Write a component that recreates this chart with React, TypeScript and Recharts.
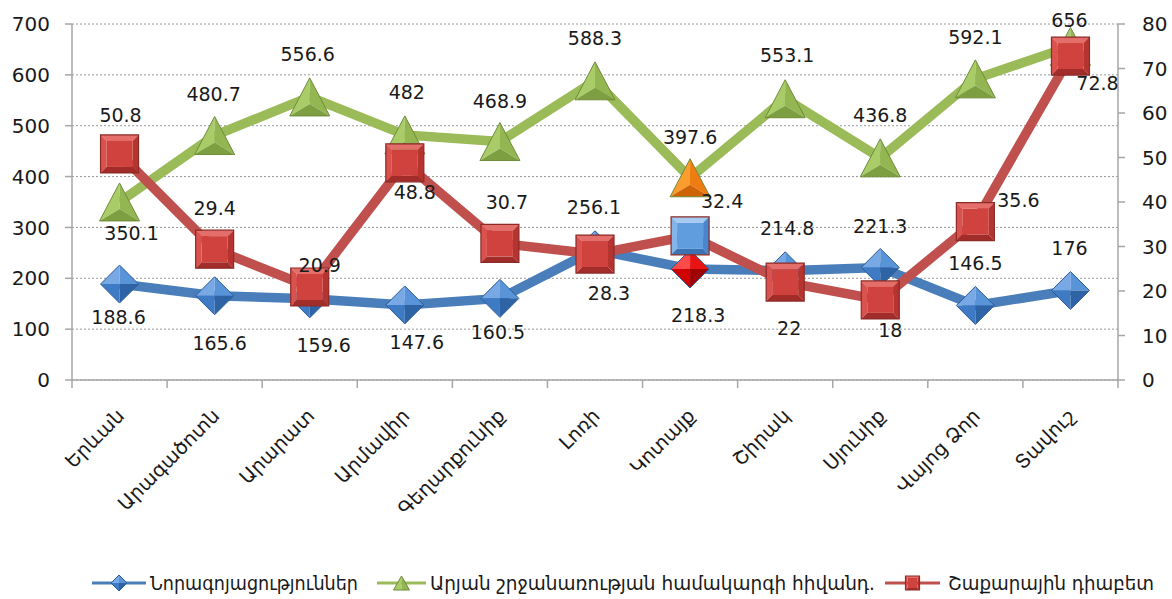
import React from 'react';
import { LineChart, Line, XAxis, YAxis, CartesianGrid, LabelList } from 'recharts';

// ---------- data ----------
const categories = ['Երևան', 'Արագածոտն', 'Արարատ', 'Արմավիր', 'Գեղարքունիք', 'Լոռի', 'Կոտայք', 'Շիրակ', 'Սյունիք', 'Վայոց Ձոր', 'Տավուշ'];
const neoplasms = [188.6, 165.6, 159.6, 147.6, 160.5, 256.1, 218.3, 214.8, 221.3, 146.5, 176];
const circulatory = [350.1, 480.7, 556.6, 482, 468.9, 588.3, 397.6, 553.1, 436.8, 592.1, 656];
const diabetes = [50.8, 29.4, 20.9, 48.8, 30.7, 28.3, 32.4, 22, 18, 35.6, 72.8];
const leftTicks = [0, 100, 200, 300, 400, 500, 600, 700];
const rightTicks = [0, 10, 20, 30, 40, 50, 60, 70, 80];
const seriesNames = ['Նորագոյացություններ', 'Արյան շրջանառության համակարգի հիվանդ.', 'Շաքարային դիաբետ'];
const highlightCategory = 'Կոտայք';

// ---------- label placement (style, offsets from the point) ----------
const blueLabelOffsets = [[-1, 33], [5, 47], [14, 46], [12, 37], [-2, 34], [-1, -43], [8, 46], [2, -43], [0, -41], [0, -42], [-1, -42]];
const greenLabelOffsets = [[12, 31], [-1, -42], [-2, -43], [2, -43], [0, -41], [0, -43], [0, -41], [2, -44], [0, -43], [0, -42], [-1, -26]];
const redLabelOffsets = [[1, -39], [0, -41], [10, -22], [10, 29], [7, -41], [14, 39], [32, -35], [4, 46], [10, 30], [43, -22], [27, 27]];

const data = categories.map((name, i) => ({
  name,
  neoplasms: neoplasms[i],
  circulatory: circulatory[i],
  diabetes: diabetes[i],
}));

// ---------- layout ----------
const W = 1172;
const H = 599;
const TOP = 24;
const LEFT_W = 72;
const RIGHT_W = 54;
const X_H = 150;
const BOTTOM_M = 69;
const AXIS_Y = H - X_H - BOTTOM_M;
const BAND = (W - LEFT_W - RIGHT_W) / categories.length;
const FONT = '"DejaVu Sans", "Liberation Sans", sans-serif';
const AXIS_COLOR = '#a6a6a6';
const hi = categories.indexOf(highlightCategory);

const BLUE = '#4A7EBB';
const GREEN = '#9BBB59';
const RED = '#C0504D';

const pts = (arr: number[][]) => arr.map((p) => p.join(',')).join(' ');

const bluePal = { a: '#78A9E4', b: '#5A94D8', c: '#3F7BC4', d: '#2E64A6', border: '#2B5C97' };
const redDiamondPal = { a: '#FF4A4A', b: '#E81414', c: '#D00000', d: '#A00000', border: '#2B5C97' };
const greenPal = { a: '#AACC68', b: '#93B552', c: '#7E9E42', border: '#6E8C38' };
const orangePal = { a: '#FA9C2E', b: '#EE7C10', c: '#CF6406', border: '#6E8C38' };
const redSqPal = { top: '#E46E6A', left: '#DA524E', mid: '#CF423E', right: '#B6342F', bottom: '#A12C29', border: '#8C2A27' };
const blueSqPal = { top: '#A6CAF0', left: '#84B4E8', mid: '#5F9DDF', right: '#4A86CC', bottom: '#3C71B2', border: '#8C2A27' };

function Diamond({ cx, cy, p, h = 19 }: any) {
  const T = [cx, cy - h], R = [cx + h, cy], B = [cx, cy + h], L = [cx - h, cy], C = [cx, cy];
  return (
    <g>
      <polygon points={pts([T, L, C])} fill={p.a} />
      <polygon points={pts([T, R, C])} fill={p.b} />
      <polygon points={pts([L, B, C])} fill={p.c} />
      <polygon points={pts([R, B, C])} fill={p.d} />
      <polygon points={pts([T, R, B, L])} fill="none" stroke={p.border} strokeWidth={1} />
    </g>
  );
}

function Triangle({ cx, cy, p, w = 20, h = 19 }: any) {
  const T = [cx, cy - h], BL = [cx - w, cy + h], BR = [cx + w, cy + h], C = [cx, cy + 7];
  return (
    <g>
      <polygon points={pts([T, BL, C])} fill={p.a} />
      <polygon points={pts([T, BR, C])} fill={p.b} />
      <polygon points={pts([BL, BR, C])} fill={p.c} />
      <polygon points={pts([T, BR, BL])} fill="none" stroke={p.border} strokeWidth={1} />
    </g>
  );
}

function Square({ cx, cy, p, h = 19, b = 6 }: any) {
  const o = [[cx - h, cy - h], [cx + h, cy - h], [cx + h, cy + h], [cx - h, cy + h]];
  const i = [[cx - h + b, cy - h + b], [cx + h - b, cy - h + b], [cx + h - b, cy + h - b], [cx - h + b, cy + h - b]];
  return (
    <g>
      <polygon points={pts([o[0], o[1], i[1], i[0]])} fill={p.top} />
      <polygon points={pts([o[0], i[0], i[3], o[3]])} fill={p.left} />
      <polygon points={pts([o[1], o[2], i[2], i[1]])} fill={p.right} />
      <polygon points={pts([o[3], i[3], i[2], o[2]])} fill={p.bottom} />
      <polygon points={pts(i)} fill={p.mid} />
      <polygon points={pts(o)} fill="none" stroke={p.border} strokeWidth={1.2} />
    </g>
  );
}

const blueDot = (props: any) => {
  const { cx, cy, index } = props;
  if (cx == null || cy == null) return <g key={`bd${index}`} />;
  return <Diamond key={`bd${index}`} cx={cx} cy={cy} p={index === hi ? redDiamondPal : bluePal} />;
};
const greenDot = (props: any) => {
  const { cx, cy, index } = props;
  if (cx == null || cy == null) return <g key={`gd${index}`} />;
  return <Triangle key={`gd${index}`} cx={cx} cy={cy} p={index === hi ? orangePal : greenPal} />;
};
const redDot = (props: any) => {
  const { cx, cy, index } = props;
  if (cx == null || cy == null) return <g key={`rd${index}`} />;
  return <Square key={`rd${index}`} cx={cx} cy={cy} p={index === hi ? blueSqPal : redSqPal} />;
};

const makeLabel = (offsets: number[][]) => (props: any) => {
  const { x, y, value, index } = props;
  if (x == null || y == null) return null;
  const [dx, dy] = offsets[index] || [0, -40];
  return (
    <text
      x={x + dx}
      y={y + dy}
      textAnchor="middle"
      dominantBaseline="central"
      fontFamily={FONT}
      fontSize={19}
      fill="#1a1a1a"
    >
      {value}
    </text>
  );
};

const XTick = (props: any) => {
  const { x, payload, index } = props;
  const half = BAND / 2;
  return (
    <g>
      <line x1={x - half} x2={x - half} y1={AXIS_Y} y2={AXIS_Y + 8} stroke={AXIS_COLOR} strokeWidth={1.5} />
      {index === categories.length - 1 && (
        <line x1={x + half} x2={x + half} y1={AXIS_Y} y2={AXIS_Y + 8} stroke={AXIS_COLOR} strokeWidth={1.5} />
      )}
      <text
        transform={`translate(${x + 6},${AXIS_Y + 37}) rotate(-45)`}
        textAnchor="end"
        fontFamily={FONT}
        fontSize={19.5}
        fill="#1a1a1a"
      >
        {payload.value}
      </text>
    </g>
  );
};

function LegendBar() {
  const y = 23;
  const items = [
    { x0: 92, x1: 146, text: seriesNames[0], tx: 150, tw: 208, color: BLUE, kind: 'd' },
    { x0: 377, x1: 426, text: seriesNames[1], tx: 430, tw: 445, color: GREEN, kind: 't' },
    { x0: 885, x1: 940, text: seriesNames[2], tx: 948, tw: 206, color: RED, kind: 's' },
  ];
  return (
    <svg width={W} height={39} style={{ position: 'absolute', left: 0, top: 560 }}>
      {items.map((it, k) => {
        const mx = (it.x0 + it.x1) / 2;
        return (
          <g key={k}>
            <line x1={it.x0} x2={it.x1} y1={y} y2={y} stroke={it.color} strokeWidth={3} />
            {it.kind === 'd' && <Diamond cx={mx} cy={y} p={bluePal} h={8} />}
            {it.kind === 't' && <Triangle cx={mx} cy={y} p={greenPal} w={8} h={7} />}
            {it.kind === 's' && <Square cx={mx} cy={y} p={redSqPal} h={7} b={2} />}
            <text
              x={it.tx}
              y={y}
              dominantBaseline="central"
              fontFamily={FONT}
              fontSize={20}
              fill="#1a1a1a"
              textLength={it.tw}
              lengthAdjust="spacingAndGlyphs"
            >
              {it.text}
            </text>
          </g>
        );
      })}
    </svg>
  );
}

export default function App() {
  return (
    <div style={{ position: 'absolute', left: 0, top: 0, width: W, height: H, background: '#fff' }}>
      <LineChart
        width={W}
        height={H}
        data={data}
        margin={{ top: TOP, right: 0, bottom: BOTTOM_M, left: 0 }}
      >
        <CartesianGrid
          yAxisId="left"
          vertical={false}
          stroke="#9a9a9a"
          strokeDasharray="2 2"
        />
        <XAxis
          dataKey="name"
          scale="band"
          interval={0}
          height={X_H}
          axisLine={{ stroke: AXIS_COLOR, strokeWidth: 1.5 }}
          tickLine={false}
          tick={<XTick />}
        />
        <YAxis
          yAxisId="left"
          width={LEFT_W}
          domain={[0, 700]}
          ticks={leftTicks}
          interval={0}
          tickSize={7}
          tickMargin={15}
          axisLine={{ stroke: AXIS_COLOR, strokeWidth: 1.5 }}
          tickLine={{ stroke: AXIS_COLOR, strokeWidth: 1.5 }}
          tick={{ fontFamily: FONT, fontSize: 20, fill: '#1a1a1a' }}
        />
        <YAxis
          yAxisId="right"
          orientation="right"
          width={RIGHT_W}
          domain={[0, 80]}
          ticks={rightTicks}
          interval={0}
          tickSize={7}
          tickMargin={17}
          axisLine={{ stroke: AXIS_COLOR, strokeWidth: 1.5 }}
          tickLine={{ stroke: AXIS_COLOR, strokeWidth: 1.5 }}
          tick={{ fontFamily: FONT, fontSize: 20, fill: '#1a1a1a', textAnchor: 'start' }}
        />
        <Line
          yAxisId="left"
          dataKey="neoplasms"
          stroke={BLUE}
          strokeWidth={9.5}
          dot={blueDot}
          activeDot={false}
          isAnimationActive={false}
        />
        <Line
          yAxisId="left"
          dataKey="circulatory"
          stroke={GREEN}
          strokeWidth={9.5}
          dot={greenDot}
          activeDot={false}
          isAnimationActive={false}
        />
        <Line
          yAxisId="right"
          dataKey="diabetes"
          stroke={RED}
          strokeWidth={9.5}
          dot={redDot}
          activeDot={false}
          isAnimationActive={false}
        />
        {/* label layers drawn on top of all series */}
        <Line yAxisId="left" dataKey="neoplasms" stroke="none" dot={false} activeDot={false} isAnimationActive={false}>
          <LabelList dataKey="neoplasms" content={makeLabel(blueLabelOffsets)} />
        </Line>
        <Line yAxisId="left" dataKey="circulatory" stroke="none" dot={false} activeDot={false} isAnimationActive={false}>
          <LabelList dataKey="circulatory" content={makeLabel(greenLabelOffsets)} />
        </Line>
        <Line yAxisId="right" dataKey="diabetes" stroke="none" dot={false} activeDot={false} isAnimationActive={false}>
          <LabelList dataKey="diabetes" content={makeLabel(redLabelOffsets)} />
        </Line>
      </LineChart>
      <LegendBar />
    </div>
  );
}
